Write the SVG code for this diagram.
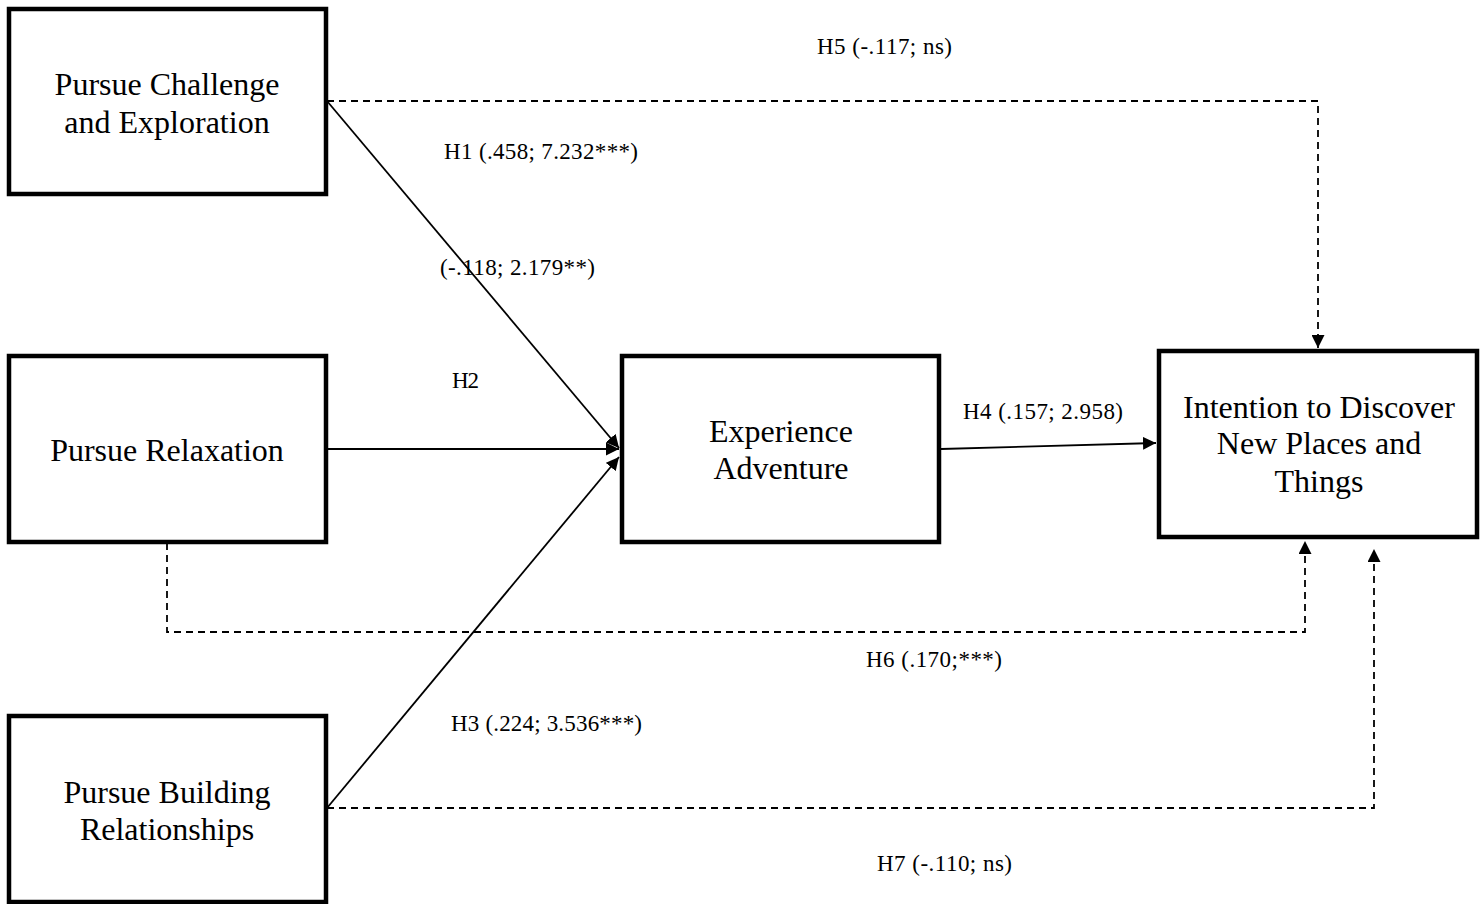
<svg xmlns="http://www.w3.org/2000/svg" width="1482" height="904" viewBox="0 0 1482 904">
<style>
.box{fill:#fff;stroke:#000;stroke-width:4.5}
.nt{font-family:"Liberation Serif","Times New Roman",serif;font-size:32px;fill:#000;text-anchor:middle}
.lb{font-family:"Liberation Serif","Times New Roman",serif;font-size:23px;fill:#000}
.ln{fill:none;stroke:#000;stroke-width:1.8}
.dl{fill:none;stroke:#000;stroke-width:1.8;stroke-dasharray:7 5}
</style>
<defs>
<marker id="ah2" viewBox="0 0 10 10" refX="10" refY="5" markerWidth="13" markerHeight="13" markerUnits="userSpaceOnUse" orient="auto">
<path d="M0,0 L10,5 L0,10 Z" fill="#000"/>
</marker>
</defs>
<rect width="1482" height="904" fill="#fff"/>
<g id="connectors">
<path class="dl" d="M327,101 H1318 V348" marker-end="url(#ah2)"/>
<path class="ln" d="M327,101 L619,448" marker-end="url(#ah2)"/>
<path class="ln" d="M327,449 L619,449" marker-end="url(#ah2)"/>
<path class="ln" d="M327,808 L619,457" marker-end="url(#ah2)"/>
<path class="ln" d="M941,449 L1156,443" marker-end="url(#ah2)"/>
<path class="dl" d="M167,543 V632 H1305 V541" marker-end="url(#ah2)"/>
<path class="dl" d="M327,808 H1374 V549" marker-end="url(#ah2)"/>
</g>
<g id="labels">
<text class="lb" x="817" y="54" textLength="135">H5 (-.117; ns)</text>
<text class="lb" x="444" y="159" textLength="194">H1 (.458; 7.232***)</text>
<text class="lb" x="440" y="275" textLength="155">(-.118; 2.179**)</text>
<text class="lb" x="452" y="388" textLength="27">H2</text>
<text class="lb" x="963" y="419" textLength="160">H4 (.157; 2.958)</text>
<text class="lb" x="866" y="667" textLength="136">H6 (.170;***)</text>
<text class="lb" x="451" y="731" textLength="191">H3 (.224; 3.536***)</text>
<text class="lb" x="877" y="871" textLength="135">H7 (-.110; ns)</text>
</g>
<g id="n1">
<rect class="box" x="9" y="9" width="317" height="185"/>
<text class="nt" x="167" y="95">Pursue Challenge</text>
<text class="nt" x="167" y="133">and Exploration</text>
</g>
<g id="n2">
<rect class="box" x="9" y="356" width="317" height="186"/>
<text class="nt" x="167" y="461">Pursue Relaxation</text>
</g>
<g id="n3">
<rect class="box" x="9" y="716" width="317" height="186"/>
<text class="nt" x="167" y="803">Pursue Building</text>
<text class="nt" x="167" y="840">Relationships</text>
</g>
<g id="n4">
<rect class="box" x="622" y="356" width="317" height="186"/>
<text class="nt" x="781" y="442">Experience</text>
<text class="nt" x="781" y="479">Adventure</text>
</g>
<g id="n5">
<rect class="box" x="1159" y="351" width="318" height="186"/>
<text class="nt" x="1319" y="418">Intention to Discover</text>
<text class="nt" x="1319" y="454">New Places and</text>
<text class="nt" x="1319" y="492">Things</text>
</g>
</svg>
